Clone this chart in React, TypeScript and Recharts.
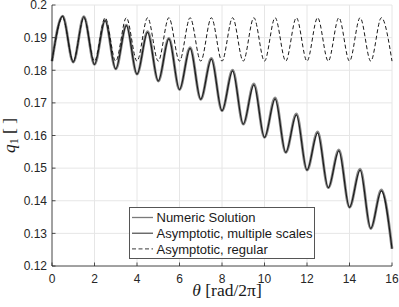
import React from 'react';
import { LineChart, Line, XAxis, YAxis, CartesianGrid } from 'recharts';

const theta = [0, 0.5, 1, 1.5, 2, 2.5, 3, 3.5, 4, 4.5, 5, 5.5, 6, 6.5, 7, 7.5, 8, 8.5, 9, 9.5, 10, 10.5, 11, 11.5, 12, 12.5, 13, 13.5, 14, 14.5, 15, 15.5, 16];

const multipleScales = [
  0.1828, 0.1966, 0.1825, 0.1964, 0.1818, 0.1952, 0.1804, 0.1937, 0.1788, 0.1916,
  0.1767, 0.1896, 0.1741, 0.1867, 0.1711, 0.1834, 0.1676, 0.1798, 0.1635, 0.1755,
  0.1594, 0.1712, 0.1548, 0.1663, 0.1494, 0.1608, 0.1440, 0.1553, 0.1380, 0.1494,
  0.1315, 0.1430, 0.1253,
];

const numeric = [
  0.1828, 0.1966, 0.1825, 0.1964, 0.1818, 0.1953, 0.1804, 0.1938, 0.1788, 0.1918,
  0.1767, 0.1898, 0.1741, 0.1869, 0.1711, 0.1836, 0.1676, 0.1800, 0.1635, 0.1758,
  0.1594, 0.1715, 0.1548, 0.1666, 0.1494, 0.1611, 0.1440, 0.1556, 0.1380, 0.1497,
  0.1315, 0.1433, 0.1253,
];

const regular = [
  0.1828, 0.1961, 0.1828, 0.1961, 0.1828, 0.1961, 0.1828, 0.1961, 0.1828, 0.1961,
  0.1828, 0.1961, 0.1828, 0.1961, 0.1828, 0.1961, 0.1828, 0.1961, 0.1828, 0.1961,
  0.1828, 0.1961, 0.1828, 0.1961, 0.1828, 0.1961, 0.1828, 0.1961, 0.1828, 0.1961,
  0.1828, 0.1961, 0.1828,
];

const xTicks = [0, 2, 4, 6, 8, 10, 12, 14, 16];
const yTicks = [0.12, 0.13, 0.14, 0.15, 0.16, 0.17, 0.18, 0.19, 0.2];
const seriesNames = ['Numeric Solution', 'Asymptotic, multiple scales', 'Asymptotic, regular'];

const data = theta.map((t, i) => ({
  theta: t,
  numeric: numeric[i],
  ms: multipleScales[i],
  reg: regular[i],
}));

const FONT = '"Liberation Sans", Arial, Helvetica, sans-serif';
const SERIF = '"Liberation Serif", "Times New Roman", serif';
const AXIS = '#262626';

const W = 399;
const H = 307;
const MARGIN = { top: 5, right: 7, bottom: 0, left: 0 };
const X_AXIS_H = 41;
const Y_AXIS_W = 52;
const PLOT_BOTTOM = H - MARGIN.bottom - X_AXIS_H;
const PLOT_LEFT = MARGIN.left + Y_AXIS_W;

const XTick = (props: any) => {
  const { x, payload } = props;
  return (
    <g>
      <line x1={x} x2={x} y1={PLOT_BOTTOM} y2={PLOT_BOTTOM - 3.5} stroke={AXIS} strokeWidth={0.8} />
      <text x={x} y={PLOT_BOTTOM + 12.5} dy="0.36em" textAnchor="middle" fontFamily={FONT} fontSize={12} fill={AXIS}>
        {String(payload.value)}
      </text>
    </g>
  );
};

const YTick = (props: any) => {
  const { y, payload } = props;
  return (
    <g>
      <line x1={PLOT_LEFT} x2={PLOT_LEFT + 3.5} y1={y} y2={y} stroke={AXIS} strokeWidth={0.8} />
      <text x={PLOT_LEFT - 5} y={y} dy="0.36em" textAnchor="end" fontFamily={FONT} fontSize={12} fill={AXIS}>
        {String(Number(payload.value.toFixed(2)))}
      </text>
    </g>
  );
};

const XLabel = (props: any) => {
  const vb = props.viewBox || {};
  const cx = (vb.x ?? 52) + (vb.width ?? 340) / 2 + 5;
  return (
    <text x={cx} y={296} textAnchor="middle" fontFamily={SERIF} fontSize={17.5} fill="#1a1a1a">
      <tspan fontStyle="italic">θ</tspan>
      <tspan> [rad/2π]</tspan>
    </text>
  );
};

const YLabel = (props: any) => {
  const vb = props.viewBox || {};
  const cy = (vb.y ?? 5) + (vb.height ?? 261) / 2;
  const cx = 15;
  return (
    <text x={cx} y={cy} transform={`rotate(-90, ${cx}, ${cy})`} textAnchor="middle" fontFamily={SERIF} fontSize={17.5} fill="#1a1a1a">
      <tspan fontStyle="italic">q</tspan>
      <tspan fontSize={12} dy={3}>1</tspan>
      <tspan dy={-3}> [ ]</tspan>
    </text>
  );
};

const LegendBox = () => {
  const rows = [
    { name: seriesNames[0], stroke: '#7a7a7a', dash: undefined, w: 1.3 },
    { name: seriesNames[1], stroke: '#3a3a3a', dash: undefined, w: 1.1 },
    { name: seriesNames[2], stroke: '#3a3a3a', dash: '4 2.5', w: 1 },
  ];
  return (
    <svg width={186} height={52} style={{ display: 'block' }}>
      <rect x={0.5} y={0.5} width={185} height={51} fill="#ffffff" stroke="#555" strokeWidth={1} />
      {rows.map((r, i) => {
        const cy = 10.5 + i * 15.7;
        return (
          <g key={r.name}>
            <line x1={3} x2={24} y1={cy} y2={cy} stroke={r.stroke} strokeWidth={r.w} strokeDasharray={r.dash} />
            <text x={27.5} y={cy} dy="0.36em" fontFamily={FONT} fontSize={13} fill="#1a1a1a">
              {r.name}
            </text>
          </g>
        );
      })}
    </svg>
  );
};

export default function App() {
  return (
    <div style={{ position: 'absolute', left: 0, top: 0, width: W, height: H, background: '#fff' }}>
      <LineChart width={W} height={H} data={data} margin={MARGIN}>
        <CartesianGrid stroke="#e6e6e6" strokeWidth={1} />
        <XAxis
          dataKey="theta"
          type="number"
          domain={[0, 16]}
          ticks={xTicks}
          height={X_AXIS_H}
          tickSize={0}
          tickLine={false}
          axisLine={{ stroke: AXIS, strokeWidth: 0.8 }}
          tick={<XTick />}
          interval={0}
          label={<XLabel />}
        />
        <YAxis
          type="number"
          domain={[0.12, 0.2]}
          ticks={yTicks}
          width={Y_AXIS_W}
          tickSize={0}
          tickLine={false}
          axisLine={{ stroke: AXIS, strokeWidth: 0.8 }}
          tick={<YTick />}
          interval={0}
          allowDataOverflow
          label={<YLabel />}
        />
        <Line type="monotone" dataKey="numeric" stroke="#8a8a8a" strokeWidth={2.8} dot={false} isAnimationActive={false} />
        <Line type="monotone" dataKey="ms" stroke="#1a1a1a" strokeWidth={1.2} dot={false} isAnimationActive={false} />
        <Line type="monotone" dataKey="reg" stroke="#1a1a1a" strokeWidth={1} strokeDasharray="4 2.5" dot={false} isAnimationActive={false} />
      </LineChart>
      <div style={{ position: 'absolute', left: 129, top: 207, width: 186, height: 52 }}>
        <LegendBox />
      </div>
    </div>
  );
}
